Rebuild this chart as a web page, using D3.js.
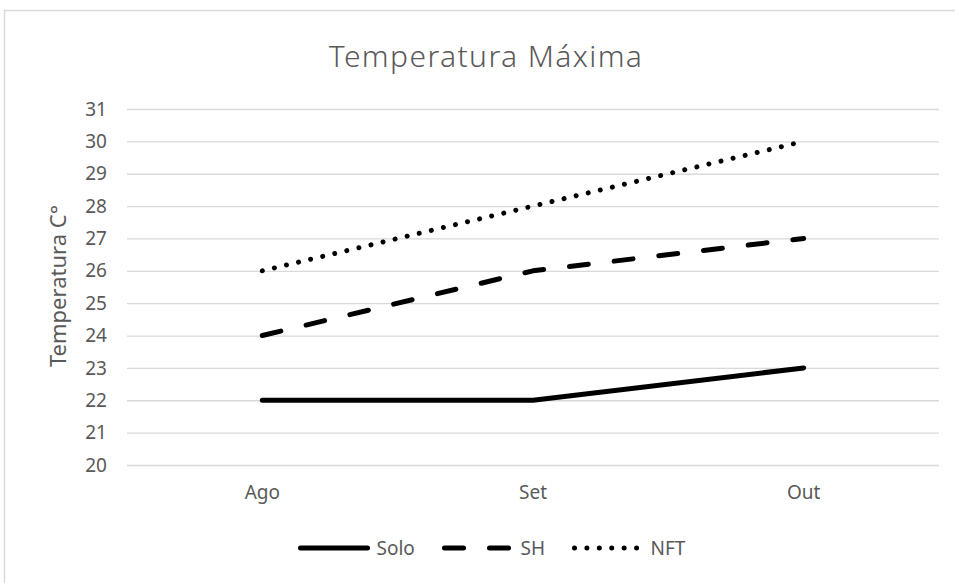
<!DOCTYPE html>
<html lang="en">
<head>
  <meta charset="UTF-8">
  <title>Temperatura Máxima</title>
  <style>
    body { margin: 0; background: #fff; font-family: "Noto Sans", "Open Sans", sans-serif; }
    .grid line { stroke: #d9d9d9; stroke-width: 1.3; }
    .tick text, .lbl { fill: #595959; }
  </style>
  <script src="https://d3js.org/d3.v7.min.js"></script>
</head>
<body>
<svg id="chart"></svg>
<script>
  // Data
  const months = ["Ago", "Set", "Out"];
  const solo = [22, 22, 23];
  const sh = [24, 26, 27];
  const nft = [26, 28, 30];
  const yTicks = [20, 21, 22, 23, 24, 25, 26, 27, 28, 29, 30, 31];

  const series = [
    {name: "Solo", values: solo, dash: null},
    {name: "SH", values: sh, dash: "19 26"},
    {name: "NFT", values: nft, dash: "0.01 12.4"}
  ];

  const W = 955, H = 583;
  const margin = {top: 109, left: 127};
  const width = 939 - margin.left;
  const height = 465 - margin.top;

  const root = d3.select("#chart").attr("width", W).attr("height", H);

  // chart border
  root.append("rect")
    .attr("x", 4.5).attr("y", 10.5)
    .attr("width", W + 10).attr("height", H + 10)
    .attr("fill", "none").attr("stroke", "#d9d9d9").attr("stroke-width", 1.5);

  root.append("text")
    .attr("class", "lbl")
    .attr("x", 486).attr("y", 67)
    .attr("text-anchor", "middle")
    .style("font-size", "30px")
    .style("font-weight", "300")
    .style("letter-spacing", "1.4px")
    .text("Temperatura Máxima");

  const svg = root.append("g")
    .attr("transform", `translate(${margin.left},${margin.top})`);

  const x = d3.scaleBand().domain(months).range([0, width]);
  const y = d3.scaleLinear().domain([20, 31]).range([height, 0]);

  // gridlines
  svg.append("g")
    .attr("class", "grid")
    .call(d3.axisLeft(y).tickValues(yTicks).tickSize(-width).tickFormat(""))
    .call(g => g.select(".domain").remove());

  // y axis labels
  svg.append("g")
    .call(d3.axisLeft(y).tickValues(yTicks).tickSize(0).tickPadding(20))
    .call(g => g.select(".domain").remove())
    .call(g => g.selectAll("text").style("font-size", "19px").style("font-family", "Noto Sans"));

  // x axis labels
  svg.append("g")
    .attr("transform", `translate(0,${height})`)
    .call(d3.axisBottom(x).tickSize(0).tickPadding(21))
    .call(g => g.select(".domain").remove())
    .call(g => g.selectAll("text").style("font-size", "19px").style("font-family", "Noto Sans"));

  root.append("text")
    .attr("class", "lbl")
    .attr("transform", "translate(66,286) rotate(-90)")
    .attr("text-anchor", "middle")
    .style("font-size", "22px")
    .text("Temperatura C°");

  const line = d3.line()
    .x((d, i) => x(months[i]) + x.bandwidth() / 2)
    .y(d => y(d));

  series.forEach(s => {
    svg.append("path")
      .datum(s.values)
      .attr("fill", "none")
      .attr("stroke", "#000")
      .attr("stroke-width", 5)
      .attr("stroke-linecap", "round")
      .attr("stroke-linejoin", "round")
      .attr("stroke-dasharray", s.dash)
      .attr("d", line);
  });

  // legend
  const legendX = [300.5, 444.5, 574.5];
  const legend = root.append("g").attr("transform", "translate(0,548)");
  series.forEach((s, i) => {
    const g = legend.append("g").attr("transform", `translate(${legendX[i]},0)`);
    g.append("line")
      .attr("x1", 0).attr("x2", 67)
      .attr("stroke", "#000").attr("stroke-width", 5)
      .attr("stroke-linecap", "round")
      .attr("stroke-dasharray", s.dash);
    g.append("text")
      .attr("class", "lbl")
      .attr("x", 76).attr("y", 7)
      .style("font-size", "19px")
      .text(s.name);
  });
</script>
</body>
</html>
